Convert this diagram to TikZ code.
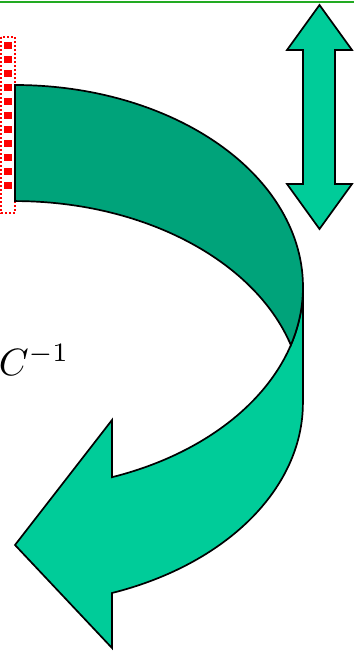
\documentclass[tikz,border=0pt]{standalone}
\usepackage{tikz}
\usetikzlibrary{arrows.meta}
\usepackage[dvipsnames]{xcolor}
\definecolor{frontgreen}{RGB}{0,204,153}
\definecolor{backgreen}{RGB}{0,163,122}
\definecolor{rulegreen}{RGB}{34,170,34}

\begin{document}
\begin{tikzpicture}[x=1pt, y=-1pt,
    outline/.style={draw=black, line width=1.7pt, line join=miter},
    ellarc/.style={x radius=288, y radius=202}]
  \clip (0,0) rectangle (354,653);
  % top rule
  \draw[rulegreen, line width=2pt] (0,1.5) -- (354,1.5);
  % dotted frame on the left
  \draw[red, line width=1.6pt, dash pattern=on 2pt off 2pt] (1,37) rectangle (15,213);
  \draw[red, line width=8pt, dash pattern=on 7pt off 7pt] (8,42) -- (8,196);
  % curved arrow, front face
  \filldraw[outline, fill=frontgreen] (112,420) -- (15,545) -- (112,648) -- (112,593)
    arc[start angle=70.3, end angle=0, ellarc] -- (303,287)
    arc[start angle=0, end angle=70.3, ellarc] -- cycle;
  % curved arrow, back face
  \filldraw[outline, fill=backgreen] (15,201) -- (15,85)
    arc[start angle=-90, end angle=16.7, ellarc]
    arc[start angle=-16.7, end angle=-90, ellarc] -- cycle;
  % up-down arrow
  \filldraw[outline, fill=frontgreen] (319.5,5) -- (352,50) -- (335,50) -- (335,184)
    -- (352,184) -- (319.5,229) -- (287,184) -- (303,184) -- (303,50) -- (287,50) -- cycle;
  % label
  \node[anchor=base west, inner sep=0pt, scale=3.8] (cinv) at (-2,375) {$C^{-1}$};
\end{tikzpicture}
\end{document}
